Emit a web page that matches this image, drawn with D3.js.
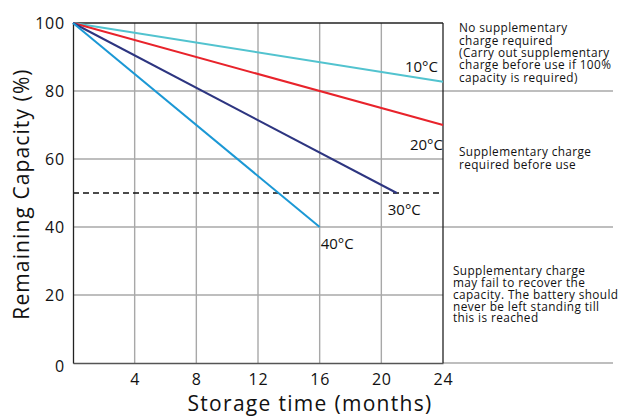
<!DOCTYPE html>
<html>
<head>
<meta charset="utf-8">
<script src="https://cdn.jsdelivr.net/npm/d3@7"></script>
<style>
  body { margin: 0; background: #fff; }
  text { font-family: "Open Sans", sans-serif; fill: #111; }
  .tick text { font-size: 16px; letter-spacing: 0.8px; }
  .note { font-size: 11.8px; letter-spacing: 0.4px; }
</style>
</head>
<body>
<div id="chart"></div>
<script>
var temps = ['10°C', '20°C', '30°C', '40°C'];
var colors = ['#52c3cf', '#e8232b', '#2d3580', '#1b98d5'];
var endMonths = [24, 24, 21, 16];
var endCapacity = [82.7, 70, 50, 40];
var xTicks = [4, 8, 12, 16, 20, 24];
var yTicks = [0, 20, 40, 60, 80, 100];

var notes = [
  {x: 459, y: 28, dy: 12.4, lines: ['No supplementary', 'charge required', '(Carry out supplementary', 'charge before use if 100%', 'capacity is required)']},
  {x: 459, y: 152, dy: 12.6, lines: ['Supplementary charge', 'required before use']},
  {x: 453, y: 271, dy: 11.8, lines: ['Supplementary charge', 'may fail to recover the', 'capacity. The battery should', 'never be left standing till', 'this is reached']}
];

var margin = {top: 23, left: 73},
    width = 443 - margin.left,
    height = 363 - margin.top;

var svg = d3.select('#chart').append('svg')
    .attr('width', 623).attr('height', 418)
    .append('g')
    .attr('transform', 'translate(' + margin.left + ',' + margin.top + ')');

var x = d3.scaleLinear().domain([0, 24]).range([0, width]);
var y = d3.scaleLinear().domain([0, 100]).range([height, 0]);
var gridEnd = 613 - margin.left;

// grid
svg.selectAll('.vgrid').data(xTicks.slice(0, -1)).enter().append('line')
    .attr('x1', d => x(d)).attr('x2', d => x(d))
    .attr('y1', 0).attr('y2', height)
    .attr('stroke', '#a8a8a8').attr('stroke-width', 1.4);

// horizontal grid, 40 and 80 run on into the notes column
var extended = [40, 80];
svg.selectAll('.hgrid').data([20, 40, 60, 80]).enter().append('line')
    .attr('x1', 0).attr('x2', d => extended.indexOf(d) >= 0 ? gridEnd : width)
    .attr('y1', d => y(d)).attr('y2', d => y(d))
    .attr('stroke', '#a8a8a8').attr('stroke-width', 1.4);
svg.append('line')
    .attr('x1', width).attr('x2', gridEnd)
    .attr('y1', y(0)).attr('y2', y(0))
    .attr('stroke', '#a8a8a8').attr('stroke-width', 1.4);

// dashed 50% line
svg.append('line')
    .attr('x1', 0).attr('x2', width)
    .attr('y1', y(50)).attr('y2', y(50))
    .attr('stroke', '#111').attr('stroke-width', 1.4)
    .attr('stroke-dasharray', '6,4');

// frame
svg.append('line').attr('x1', 0).attr('x2', width).attr('y1', 0).attr('y2', 0)
    .attr('stroke', '#222').attr('stroke-width', 1.3);
svg.append('line').attr('x1', width).attr('x2', width).attr('y1', 0).attr('y2', height)
    .attr('stroke', '#222').attr('stroke-width', 1.3);

// axes
var xAxis = d3.axisBottom(x).tickValues(xTicks).tickSize(0).tickPadding(11);
var yAxis = d3.axisLeft(y).tickValues(yTicks).tickSize(0).tickPadding(8);

var gx = svg.append('g').attr('transform', 'translate(0,' + height + ')').call(xAxis);
gx.select('.domain').attr('stroke', '#555').attr('stroke-width', 1.6);
var gy = svg.append('g').call(yAxis);
gy.select('.domain').attr('stroke', '#222').attr('stroke-width', 1.3);
gy.selectAll('.tick').filter(d => d === 0).select('text').attr('dy', '0.5em');

// lines
var line = d3.line().x(d => x(d[0])).y(d => y(d[1]));
svg.selectAll('.series').data(temps).enter().append('path')
    .attr('d', (d, i) => line([[0, 100], [endMonths[i], endCapacity[i]]]))
    .attr('fill', 'none')
    .attr('stroke', (d, i) => colors[i])
    .attr('stroke-width', 2);

// temperature labels
var labelPos = [
  {dx: -5, dy: -10, anchor: 'end'},
  {dx: 0, dy: 25, anchor: 'end'},
  {dx: -9, dy: 22, anchor: 'start'},
  {dx: 1, dy: 22, anchor: 'start'}
];
svg.selectAll('.tlabel').data(temps).enter().append('text')
    .attr('x', (d, i) => x(endMonths[i]) + labelPos[i].dx)
    .attr('y', (d, i) => y(endCapacity[i]) + labelPos[i].dy)
    .attr('text-anchor', (d, i) => labelPos[i].anchor)
    .style('font-size', '15px')
    .text(d => d);

// axis titles
svg.append('text')
    .attr('x', 310 - margin.left).attr('y', 411 - margin.top)
    .attr('text-anchor', 'middle')
    .style('font-size', '21px').style('letter-spacing', '1.3px')
    .text('Storage time (months)');
svg.append('text')
    .attr('transform', 'translate(' + (29 - margin.left) + ',' + (194 - margin.top) + ') rotate(-90)')
    .attr('text-anchor', 'middle')
    .style('font-size', '21px').style('letter-spacing', '1.1px')
    .text('Remaining Capacity (%)');

// notes
notes.forEach(function(n) {
  var t = d3.select('svg').append('text').attr('class', 'note');
  n.lines.forEach(function(l, i) {
    t.append('tspan').attr('x', n.x).attr('y', n.y + i * n.dy).attr('dy', '0.35em').text(l);
  });
});
</script>
</body>
</html>
